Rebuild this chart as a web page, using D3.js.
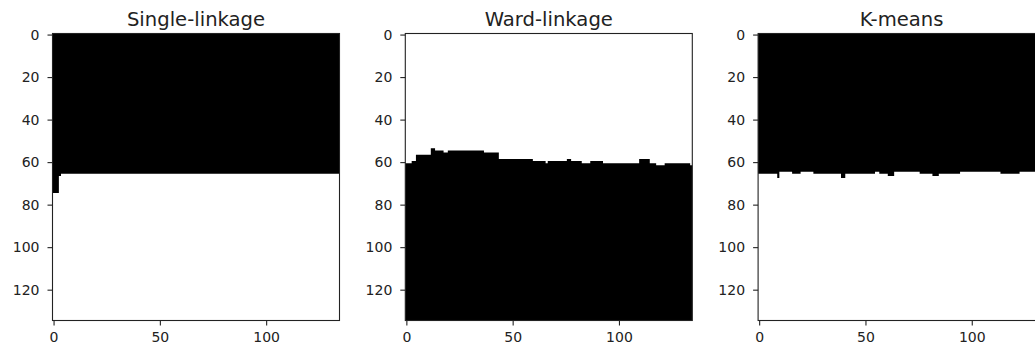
<!DOCTYPE html>
<html>
<head>
<meta charset="utf-8">
<script src="https://cdn.jsdelivr.net/npm/d3@7"></script>
<style>
  html, body { margin: 0; padding: 0; background: #fff; overflow: hidden; }
  svg { display: block; }
  text { font-family: "DejaVu Sans", sans-serif; fill: #222; }
</style>
</head>
<body>
<svg id="chart" width="1035" height="351"></svg>
<script>
// Image size (rows x columns) of each segmentation map
const imageSize = 135;

// Panel titles
const titles = ["Single-linkage", "Ward-linkage", "K-means"];

// Tick labels
const xTicks = [0, 50, 100];
const yTicks = [0, 20, 40, 60, 80, 100, 120];

// Column runs: [number of columns, boundary row]
// Single-linkage: label 1 (black) above the boundary row
const singleRuns = [[3, 75], [1, 67], [131, 66]];

// Ward-linkage: label 1 (black) from the boundary row downward
const wardRuns = [
  [3, 61], [2, 60], [7, 57], [2, 54], [4, 55], [2, 56], [17, 55], [7, 56],
  [16, 59], [6, 60], [1, 61], [9, 60], [2, 59], [5, 60], [4, 61], [6, 60],
  [17, 61], [5, 59], [3, 61], [4, 62], [12, 61], [1, 62]
];

// K-means: label 1 (black) above the boundary row
const kmeansRuns = [
  [9, 66], [1, 68], [6, 65], [4, 66], [6, 65], [13, 66], [2, 68], [14, 66],
  [2, 65], [4, 66], [3, 67], [12, 65], [6, 66], [3, 67], [10, 66], [19, 65],
  [9, 66], [12, 65]
];

const panels = [
  { title: titles[0], runs: singleRuns, blackAbove: true },
  { title: titles[1], runs: wardRuns, blackAbove: false },
  { title: titles[2], runs: kmeansRuns, blackAbove: true }
];

const svg = d3.select("#chart");
const panelLefts = [52.5, 405.3, 758.1];
const panelTop = 33.5, panelSize = 287;
const lo = -0.5, hi = imageSize - 0.5;

panels.forEach((p, i) => {
  const left = panelLefts[i];
  const x = d3.scaleLinear().domain([lo, hi]).range([left, left + panelSize]);
  const y = d3.scaleLinear().domain([lo, hi]).range([panelTop, panelTop + panelSize]);
  const g = svg.append("g");

  g.append("rect")
    .attr("x", x(lo)).attr("y", y(lo))
    .attr("width", x(hi) - x(lo))
    .attr("height", y(hi) - y(lo))
    .attr("fill", "#fff");

  // boundary as step points: each run starts at its first column edge
  let col = 0;
  const pts = p.runs.map(([n, b]) => {
    const pt = { edge: col - 0.5, b };
    col += n;
    return pt;
  });
  pts.push({ edge: col - 0.5, b: pts[pts.length - 1].b });

  const area = d3.area()
    .curve(d3.curveStepAfter)
    .x(d => x(d.edge))
    .y0(p.blackAbove ? y(lo) : y(hi))
    .y1(d => y(d.b - 0.5));

  g.append("path")
    .datum(pts)
    .attr("d", area)
    .attr("fill", "#000");

  // axes
  const xAxis = d3.axisBottom(x).tickValues(xTicks).tickSize(5).tickPadding(7);
  const yAxis = d3.axisLeft(y).tickValues(yTicks).tickSize(5).tickPadding(8);

  const gx = g.append("g").attr("transform", `translate(0,${panelTop + panelSize})`).call(xAxis);
  const gy = g.append("g").attr("transform", `translate(${left},0)`).call(yAxis);
  [gx, gy].forEach(a => {
    a.select(".domain").remove();
    a.selectAll("line").attr("stroke", "#222").attr("stroke-width", 1.1);
    a.selectAll("text").style("font-size", "14px").style("font-family", "DejaVu Sans, sans-serif").attr("fill", "#222");
  });

  // spines
  g.append("rect")
    .attr("x", left).attr("y", panelTop)
    .attr("width", panelSize).attr("height", panelSize)
    .attr("fill", "none").attr("stroke", "#222").attr("stroke-width", 1.1);

  // title
  g.append("text")
    .attr("x", left + panelSize / 2).attr("y", 25.5)
    .attr("text-anchor", "middle")
    .style("font-size", "19.6px")
    .text(p.title);
});
</script>
</body>
</html>
